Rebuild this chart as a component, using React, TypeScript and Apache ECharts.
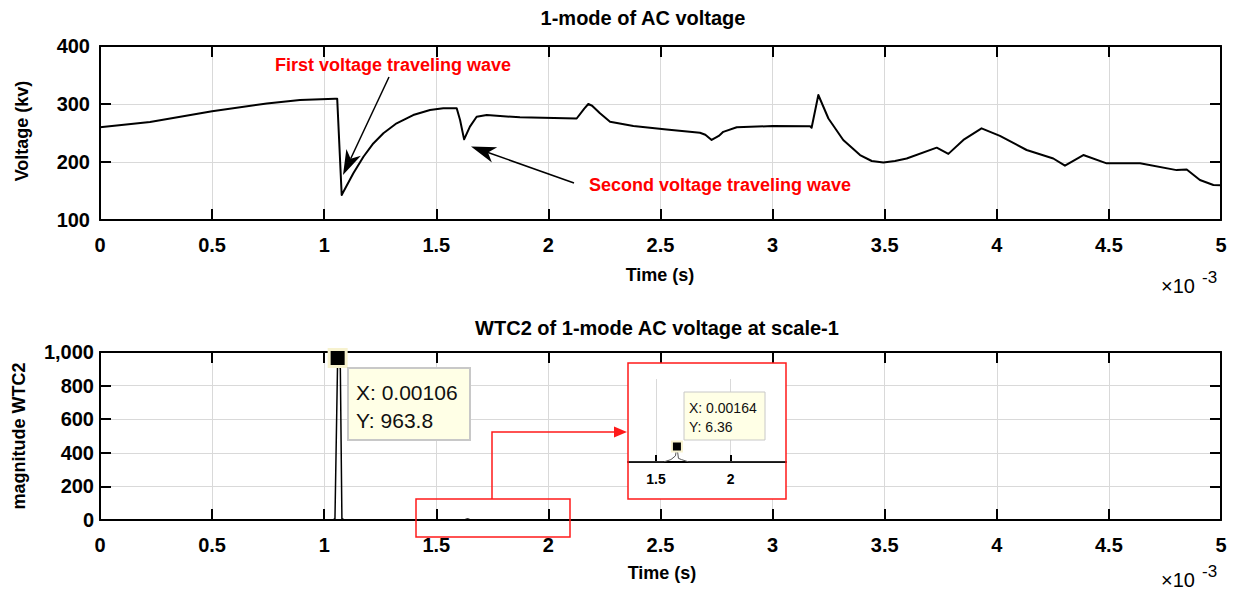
import React, { useEffect, useRef } from 'react';
import * as echarts from 'echarts';

// ---------- data (time in units of 1e-3 s) ----------
const voltageTime = [0, 0.223, 0.5, 0.744, 0.892, 1.048, 1.058, 1.078, 1.13, 1.175, 1.219, 1.264, 1.323, 1.397, 1.472, 1.531, 1.591, 1.606, 1.624, 1.65, 1.68, 1.725, 1.873, 2.126, 2.16, 2.178, 2.195, 2.23, 2.275, 2.379, 2.527, 2.676, 2.7, 2.728, 2.76, 2.78, 2.84, 3.0, 3.167, 3.174, 3.204, 3.249, 3.315, 3.39, 3.442, 3.494, 3.546, 3.598, 3.732, 3.784, 3.851, 3.932, 4.014, 4.133, 4.252, 4.304, 4.386, 4.49, 4.639, 4.802, 4.847, 4.906, 4.966, 5.0];
const voltageValue = [260, 269, 287.4, 301, 307, 309, 309, 143, 180.5, 209, 232, 249.5, 266.7, 281, 289.7, 292.6, 292.6, 272.4, 239, 261, 278, 281, 277, 275, 292, 300, 297, 284, 269.5, 262, 256, 250.5, 247, 238, 245, 252, 260, 262, 261.5, 259, 315.5, 275, 238, 212, 201.7, 199, 201.7, 206, 224.7, 214, 238, 258, 245, 220.7, 206, 193.6, 212, 197.7, 197.7, 186, 187, 169, 160.3, 160];

const wtcTime = [0, 1.0, 1.04, 1.048, 1.06, 1.072, 1.079, 1.09, 1.55, 1.6, 1.63, 1.64, 1.65, 1.67, 1.72, 3.15, 3.2, 3.25, 3.72, 3.76, 3.8, 4.24, 4.28, 4.33, 4.82, 4.85, 4.87, 5];
const wtcValue = [0, 0, 1, 8, 963.8, 900, 8, 0, 0, 1, 2.5, 6.36, 1.5, 1, 0, 0, 2, 0, 0, 1.5, 0, 0, 1.5, 0, 0, 1.5, 0, 0];

const peakPoint = [1.06, 963.8];
const insetPoint = [1.64, 6.36];
const insetTickValues = [1.5, 2];

const topTitle = '1-mode of AC voltage';
const bottomTitle = 'WTC2 of 1-mode AC voltage at scale-1';
const peakTipLines = ['X: 0.00106', 'Y: 963.8'];
const insetTipLines = ['X: 0.00164', 'Y: 6.36'];

const FONT = '"Liberation Sans", Arial, Helvetica, sans-serif';

function arrowPoints(sx: number, sy: number, tx: number, ty: number, len: number, halfW: number, notch: number) {
  const dx = tx - sx, dy = ty - sy;
  const d = Math.hypot(dx, dy);
  const ux = dx / d, uy = dy / d;
  const nx = -uy, ny = ux;
  const bx = tx - ux * len, by = ty - uy * len;
  const mx = tx - ux * (len - notch), my = ty - uy * (len - notch);
  return {
    head: [[tx, ty], [bx + nx * halfW, by + ny * halfW], [mx, my], [bx - nx * halfW, by - ny * halfW]],
    lineEnd: [mx, my],
  };
}

const axisLine = { show: true, onZero: false, lineStyle: { color: '#000', width: 2 } };
const axisTick = { show: true, inside: true, length: 11, lineStyle: { color: '#000', width: 2 } };
const gridLine = { show: true, lineStyle: { color: '#d9d9d9', width: 1 } };
const tickLabel = { color: '#000', fontFamily: FONT, fontWeight: 'bold', fontSize: 20 } as any;

function text(t: string, x: number, y: number, font: string, fill = '#000', align = 'center', z = 30, rotation = 0) {
  return {
    type: 'text', x, y, rotation, z,
    style: { text: t, x: 0, y: 0, font, fill, textAlign: align, textVerticalAlign: 'middle' },
  };
}

export default function App() {
  const ref = useRef<HTMLDivElement>(null);
  useEffect(() => {
    document.body.style.margin = '0';
    const chart = echarts.init(ref.current!, null, { renderer: 'svg' });

    const a1 = arrowPoints(389, 77, 343, 175, 25, 8, 7);
    const a2 = arrowPoints(574, 183, 471, 146.5, 25, 8, 7);

    const topXY = voltageTime.map((t, i) => [t, voltageValue[i]]);
    const wtcXY = wtcTime.map((t, i) => [t, wtcValue[i]]);

    const option: any = {
      animation: false,
      grid: [
        { left: 100, top: 46, width: 1121, height: 174 },
        { left: 100, top: 352, width: 1121, height: 168 },
        { left: 628, top: 379, width: 158, height: 83 },
      ],
      xAxis: [
        { type: 'value', gridIndex: 0, min: 0, max: 5, interval: 0.5, position: 'bottom', axisLine, axisTick, splitLine: gridLine, axisLabel: { ...tickLabel, margin: 15 } },
        { type: 'value', gridIndex: 0, min: 0, max: 5, interval: 0.5, position: 'top', axisLine, axisTick, splitLine: { show: false }, axisLabel: { show: false } },
        { type: 'value', gridIndex: 1, min: 0, max: 5, interval: 0.5, position: 'bottom', axisLine, axisTick, splitLine: gridLine, axisLabel: { ...tickLabel, margin: 15 } },
        { type: 'value', gridIndex: 1, min: 0, max: 5, interval: 0.5, position: 'top', axisLine, axisTick, splitLine: { show: false }, axisLabel: { show: false } },
        {
          type: 'value', gridIndex: 2, min: 1.3125, max: 2.37, position: 'bottom', z: 6,
          axisLine,
          axisTick: { show: true, inside: true, length: 7, customValues: insetTickValues, lineStyle: { color: '#000', width: 2 } },
          axisLabel: { color: '#000', fontFamily: FONT, fontWeight: 'bold', fontSize: 14, margin: 10, customValues: insetTickValues },
          splitLine: { show: false },
        },
      ],
      yAxis: [
        { type: 'value', gridIndex: 0, min: 100, max: 400, interval: 100, position: 'left', axisLine, axisTick, splitLine: gridLine, axisLabel: { ...tickLabel, margin: 10 } },
        { type: 'value', gridIndex: 0, min: 100, max: 400, interval: 100, position: 'right', axisLine, axisTick, splitLine: { show: false }, axisLabel: { show: false } },
        { type: 'value', gridIndex: 1, min: 0, max: 1000, interval: 200, position: 'left', axisLine, axisTick, splitLine: gridLine, axisLabel: { ...tickLabel, margin: 6, formatter: (v: number) => v.toLocaleString('en-US') } },
        { type: 'value', gridIndex: 1, min: 0, max: 1000, interval: 200, position: 'right', axisLine, axisTick, splitLine: { show: false }, axisLabel: { show: false } },
        { type: 'value', gridIndex: 2, min: 0, max: 34, show: false },
      ],
      series: [
        { type: 'line', xAxisIndex: 0, yAxisIndex: 0, data: topXY, showSymbol: false, lineStyle: { color: '#000', width: 2, join: 'round' }, z: 2 },
        { type: 'line', xAxisIndex: 2, yAxisIndex: 2, data: wtcXY, showSymbol: false, lineStyle: { color: '#000', width: 1.5 }, z: 2 },
        { type: 'scatter', xAxisIndex: 2, yAxisIndex: 2, data: [peakPoint], symbol: 'rect', symbolSize: 17, itemStyle: { color: '#000', opacity: 1, borderColor: '#f7f2cf', borderWidth: 3 }, z: 12 },
        {
          type: 'line', xAxisIndex: 4, yAxisIndex: 4, data: wtcXY, showSymbol: false, clip: true, lineStyle: { color: '#555', width: 1 }, z: 10,
          markLine: { silent: true, symbol: 'none', label: { show: false }, lineStyle: { color: '#d9d9d9', type: 'solid', width: 1 }, data: insetTickValues.map((v) => ({ xAxis: v })) },
        },
        { type: 'scatter', xAxisIndex: 4, yAxisIndex: 4, data: [insetPoint], symbol: 'rect', symbolSize: 10, itemStyle: { color: '#000', opacity: 1, borderColor: '#f7f2cf', borderWidth: 2 }, z: 12 },
      ],
      graphic: [
        // inset background and frames
        { type: 'rect', z: 3, shape: { x: 628, y: 363, width: 158, height: 136 }, style: { fill: '#fff' } },
        { type: 'rect', z: 40, shape: { x: 628, y: 363, width: 158, height: 136 }, style: { fill: 'none', stroke: '#ff1a1a', lineWidth: 1.5 } },
        { type: 'rect', z: 40, shape: { x: 416, y: 499, width: 154, height: 38 }, style: { fill: 'none', stroke: '#ff1a1a', lineWidth: 1.5 } },
        { type: 'polyline', z: 40, shape: { points: [[492, 499], [492, 432], [616, 432]] }, style: { fill: 'none', stroke: '#ff1a1a', lineWidth: 1.5 } },
        { type: 'polygon', z: 40, shape: { points: [[614, 426.5], [627, 432], [614, 437.5]] }, style: { fill: '#ff1a1a' } },
        // black annotation arrows
        { type: 'line', z: 40, shape: { x1: 389, y1: 77, x2: a1.lineEnd[0], y2: a1.lineEnd[1] }, style: { stroke: '#000', lineWidth: 1.5 } },
        { type: 'polygon', z: 40, shape: { points: a1.head }, style: { fill: '#000' } },
        { type: 'line', z: 40, shape: { x1: 574, y1: 183, x2: a2.lineEnd[0], y2: a2.lineEnd[1] }, style: { stroke: '#000', lineWidth: 1.5 } },
        { type: 'polygon', z: 40, shape: { points: a2.head }, style: { fill: '#000' } },
        text('First voltage traveling wave', 393, 65, `bold 18px ${FONT}`, '#ff0000', 'center'),
        text('Second voltage traveling wave', 720, 185, `bold 18px ${FONT}`, '#ff0000', 'center'),
        // data tips
        { type: 'rect', z: 30, shape: { x: 348, y: 368, width: 122, height: 72 }, style: { fill: '#ffffe6', stroke: '#c8c8c8', lineWidth: 2 } },
        text(peakTipLines[0], 356, 392, `21px ${FONT}`, '#111', 'left', 31),
        text(peakTipLines[1], 356, 420, `21px ${FONT}`, '#111', 'left', 31),
        { type: 'rect', z: 30, shape: { x: 684, y: 392, width: 81, height: 48 }, style: { fill: '#ffffe6', stroke: '#c8c8c8', lineWidth: 1 } },
        text(insetTipLines[0], 689, 408, `14px ${FONT}`, '#111', 'left', 31),
        text(insetTipLines[1], 689, 427, `14px ${FONT}`, '#111', 'left', 31),
        // titles and axis names
        text(topTitle, 643, 18, `bold 20px ${FONT}`),
        text(bottomTitle, 657, 328, `bold 20px ${FONT}`),
        text('Time (s)', 660, 275, `bold 18px ${FONT}`),
        text('Time (s)', 662, 573, `bold 18px ${FONT}`),
        text('Voltage (kv)', 22, 131, `bold 18px ${FONT}`, '#000', 'center', 30, Math.PI / 2),
        text('magnitude WTC2', 19, 436, `bold 18px ${FONT}`, '#000', 'center', 30, Math.PI / 2),
        // exponent labels
        text('×10', 1161, 286, `20px ${FONT}`, '#000', 'left'),
        text('-3', 1202, 277, `17px ${FONT}`, '#000', 'left'),
        text('×10', 1161, 580, `20px ${FONT}`, '#000', 'left'),
        text('-3', 1202, 571, `17px ${FONT}`, '#000', 'left'),
      ],
    };
    chart.setOption(option);
    return () => chart.dispose();
  }, []);
  return <div ref={ref} style={{ width: 1241, height: 591 }} />;
}
